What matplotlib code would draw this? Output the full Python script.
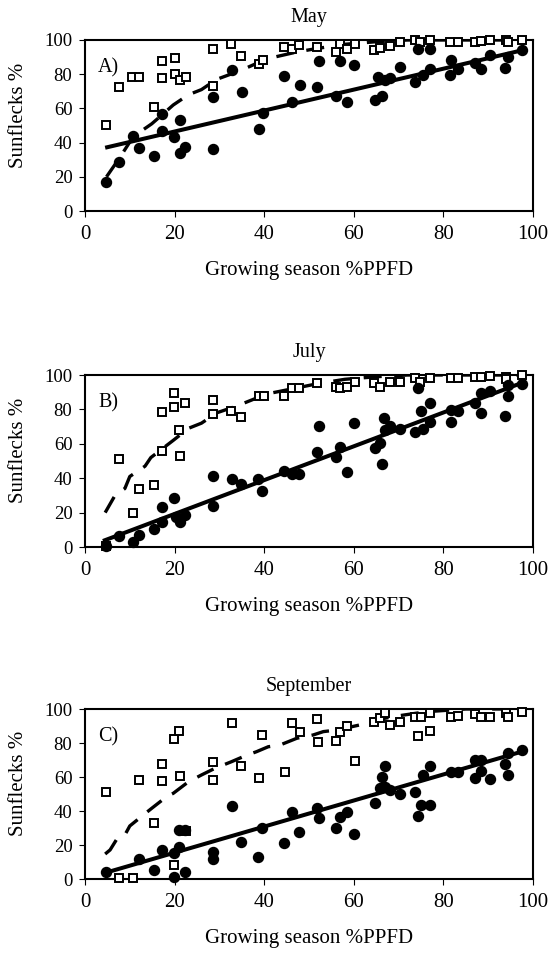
import numpy as np
import matplotlib
matplotlib.use('Agg')
import matplotlib.pyplot as plt

plt.rcParams['font.family'] = ['Liberation Serif', 'DejaVu Serif']
plt.rcParams['lines.scale_dashes'] = False

########## Data ##########
months = ['May', 'July', 'September']
panel_tags = ['A)', 'B)', 'C)']

# Panel A - May
sqA_x = [4.7, 7.7, 10.6, 12.0, 15.4, 17.2, 17.2, 20.1, 20.1, 21.2, 22.5, 28.6, 28.6, 32.7, 34.9, 38.9, 39.8,
         44.4, 46.1, 47.8, 51.7, 56.0, 56.9, 58.4, 60.2, 64.5, 65.9, 68.0, 70.3, 73.6, 74.7, 77.0, 81.4,
         83.3, 87.0, 88.5, 90.3, 93.9, 94.4, 97.6]
sqA_y = [50.3, 72.3, 78.6, 78.6, 60.6, 87.9, 78.0, 89.3, 80.1, 76.6, 78.6, 94.7, 73.1, 97.5, 90.6, 86.0, 88.3,
         96.1, 94.5, 97.1, 96.1, 93.2, 97.5, 94.5, 97.7, 94.2, 95.1, 96.7, 99.0, 100, 99.0, 100, 98.6,
         98.6, 99.0, 99.6, 100, 100, 99.0, 100]
ciA_x = [4.7, 7.7, 10.8, 12.0, 15.4, 17.2, 17.2, 19.8, 21.1, 21.1, 22.3, 28.6, 28.6, 32.8, 35.0, 38.8, 39.7,
         44.5, 46.2, 47.9, 51.7, 52.3, 56.0, 56.9, 58.4, 60.0, 64.7, 65.4, 66.2, 66.9, 68.0, 70.3, 73.6,
         74.3, 75.5, 77.0, 77.0, 81.4, 81.6, 83.3, 87.0, 88.3, 90.3, 93.7, 94.4, 97.6]
ciA_y = [17.2, 28.5, 43.7, 36.9, 32.3, 46.6, 56.7, 43.0, 53.2, 33.7, 37.6, 36.3, 66.9, 82.3, 69.8, 48.0, 57.1,
         78.8, 63.7, 73.7, 72.3, 87.9, 67.3, 87.9, 63.5, 85.4, 64.9, 78.2, 67.3, 76.6, 77.6, 84.4, 75.6,
         94.7, 79.5, 83.0, 94.5, 79.5, 88.3, 83.0, 86.4, 83.0, 91.2, 83.4, 89.9, 94.2]
dashA_x = [4.8, 7.7, 10.4, 12.7, 14.9, 17.1, 19.7, 23.1, 26.0, 29.4, 34.6, 40.6, 47.3, 51.7, 58, 65, 72, 97.6]
dashA_y = [20, 31, 42, 47, 51, 56, 62, 68, 71, 77, 82, 89, 93, 95, 97.5, 99, 100, 100]
lineA_x = [4.5, 97.6]
lineA_y = [37, 94]

# Panel B - July
sqB_x = [4.7, 7.7, 10.8, 12.0, 15.4, 17.2, 17.2, 19.9, 19.9, 21.0, 21.3, 22.3, 28.6, 28.6, 32.7, 34.9, 38.9,
         39.9, 44.4, 46.1, 47.8, 51.7, 56.0, 56.9, 58.4, 60.2, 64.5, 65.9, 68.0, 70.3, 73.6, 74.7, 77.0,
         81.6, 83.3, 87.0, 88.5, 90.3, 94.0, 94.0, 97.6]
sqB_y = [0.4, 50.9, 19.8, 34.0, 35.9, 78.6, 55.9, 89.7, 81.2, 68.0, 53.0, 83.5, 85.4, 77.1, 79.0, 75.7, 87.8,
         87.8, 87.8, 92.6, 92.6, 95.1, 93.2, 92.6, 93.2, 96.1, 95.5, 93.2, 96.1, 96.1, 98.1, 96.1, 98.1,
         98.1, 98.1, 99.0, 99.0, 99.4, 99.0, 97.5, 100]
ciB_x = [4.7, 7.7, 10.8, 12.0, 15.4, 17.2, 17.2, 19.9, 20.4, 21.3, 22.3, 28.6, 28.6, 32.9, 34.9, 38.7, 39.6,
         44.4, 46.1, 47.8, 51.7, 52.3, 56.0, 56.9, 58.4, 60.0, 64.7, 65.8, 66.2, 66.7, 66.9, 68.0, 70.3,
         73.6, 74.3, 75.1, 75.5, 77.0, 77.0, 81.6, 81.6, 83.3, 87.0, 88.3, 88.3, 90.3, 93.7, 94.4, 94.4, 97.6]
ciB_y = [0.4, 6.2, 2.9, 6.8, 10.7, 14.6, 23.3, 28.2, 17.5, 14.6, 18.4, 23.7, 41.4, 39.8, 36.9, 39.8, 32.6,
         44.3, 42.7, 42.7, 55.3, 70.3, 52.4, 58.3, 43.7, 72.2, 57.3, 60.6, 48.5, 75.1, 68.3, 70.3, 68.7,
         66.8, 92.4, 79.2, 68.7, 72.6, 83.9, 79.6, 72.8, 79.2, 83.5, 77.7, 89.7, 90.7, 76.3, 87.8, 94.2, 94.6]
dashB_x = [4.5, 6.7, 8.9, 10.0, 13.4, 14.7, 18.2, 19.7, 23.1, 26.0, 29.4, 33.9, 40.6, 47.3, 52, 58, 65, 72, 97.6]
dashB_y = [20, 30, 34, 41, 47, 52, 59, 62, 69, 72, 78, 82, 89, 92.5, 95, 97.5, 99, 100, 100]
lineB_x = [4.0, 97.6]
lineB_y = [3.5, 95.5]

# Panel C - September
sqC_x = [4.7, 7.7, 10.8, 12.0, 15.4, 17.2, 17.2, 19.9, 19.9, 21.0, 21.2, 22.5, 28.6, 28.6, 32.9, 34.9, 38.9,
         39.6, 44.6, 46.3, 48.0, 51.7, 52.0, 56.0, 57.0, 58.5, 60.2, 64.5, 65.9, 66.9, 68.0, 70.3, 73.6,
         74.3, 75.1, 77.0, 77.0, 81.6, 83.3, 87.0, 88.3, 90.3, 94.0, 94.4, 97.6]
sqC_y = [51.0, 0.4, 0.4, 58.2, 33.1, 67.6, 57.8, 82.4, 8.2, 87.3, 60.6, 28.4, 68.8, 58.4, 92.0, 66.7, 59.2,
         84.9, 62.7, 91.6, 86.7, 93.9, 80.4, 81.2, 86.7, 90.0, 69.4, 92.5, 94.5, 97.5, 90.6, 92.5, 95.1,
         84.1, 95.1, 97.5, 87.3, 95.5, 95.9, 97.1, 95.1, 95.1, 97.8, 95.1, 98.4]
ciC_x = [4.7, 12.0, 15.4, 17.2, 19.9, 19.9, 21.0, 21.0, 22.3, 22.3, 28.6, 28.6, 32.9, 34.9, 38.7, 39.6,
         44.4, 46.3, 47.8, 51.7, 52.3, 56.0, 56.9, 58.5, 60.0, 64.7, 65.8, 66.2, 66.9, 66.9, 68.0, 70.3,
         73.6, 74.3, 75.1, 75.5, 77.0, 77.0, 81.6, 83.3, 87.0, 87.0, 88.3, 88.3, 90.3, 93.7, 94.4, 94.4, 97.6]
ciC_y = [4.3, 11.8, 5.3, 17.1, 15.1, 1.4, 18.6, 28.8, 28.8, 4.3, 16.1, 11.8, 42.9, 21.9, 13.1, 30.2,
         21.0, 39.2, 27.5, 42.0, 35.7, 30.2, 36.7, 39.6, 26.5, 44.9, 53.3, 60.2, 66.5, 54.3, 52.4, 50.0,
         51.4, 37.3, 43.5, 61.2, 43.5, 66.5, 62.7, 62.7, 70.0, 59.4, 70.0, 63.5, 59.0, 67.5, 74.3, 61.2, 75.7]
dashC_x = [4.5, 5.6, 7.2, 8.9, 10.0, 13.0, 14.9, 18.2, 19.7, 23.1, 26.0, 29.0, 32.7, 35.7, 38.3, 40.9, 43.5,
           47.3, 50.9, 53.2, 56.1, 61.3, 64.7, 70, 76.2, 85, 97.6]
dashC_y = [14.7, 17.1, 23.9, 25.9, 31.2, 37.6, 41.6, 48.4, 50.4, 57.2, 61.2, 65.1, 69, 72.4, 74.9, 77.8, 78.8,
           82.8, 84.7, 86.7, 87.6, 90.6, 93.5, 96, 98.4, 100, 100]
lineC_x = [5.0, 97.6]
lineC_y = [4.0, 75.0]

squares = [(sqA_x, sqA_y), (sqB_x, sqB_y), (sqC_x, sqC_y)]
circles = [(ciA_x, ciA_y), (ciB_x, ciB_y), (ciC_x, ciC_y)]
dashed = [(dashA_x, dashA_y), (dashB_x, dashB_y), (dashC_x, dashC_y)]
solid = [(lineA_x, lineA_y), (lineB_x, lineB_y), (lineC_x, lineC_y)]
ticks = [0, 20, 40, 60, 80, 100]

########## Plot ##########
fig = plt.figure(figsize = [5.51 , 9.58] , dpi = 100)
W , H = 551. , 958.
boxes = [(40 , 211) , (375 , 547) , (709 , 879)]  # top / bottom pixel rows of each plot area

for cnt_p in range(0 , 3):
    top , bot = boxes[cnt_p]
    ax = fig.add_axes([85 / W , 1 - bot / H , 448 / W , (bot - top) / H])

    sx , sy = squares[cnt_p]
    cx , cy = circles[cnt_p]
    dx , dy = dashed[cnt_p]
    lx , ly = solid[cnt_p]

    ax.plot(dx , dy , color = 'k' , lw = 2.4 , linestyle = (0 , (13 , 9)) , zorder = 2)
    ax.plot(sx , sy , linestyle = 'none' , marker = 's' , ms = 5.8 , mfc = 'white' , mec = 'k' ,
            mew = 1.4 , clip_on = False , zorder = 3)
    ax.plot(cx , cy , linestyle = 'none' , marker = 'o' , ms = 7.2 , mfc = 'k' , mec = 'k' ,
            clip_on = False , zorder = 4)
    ax.plot(lx , ly , color = 'k' , lw = 2.9 , solid_capstyle = 'butt' , zorder = 5)

    ax.set_xlim(0 , 100)
    ax.set_ylim(0 , 100)
    ax.set_xticks(ticks)
    ax.set_yticks(ticks)
    for sp in ax.spines.values():
        sp.set_linewidth(1.5)
    ax.tick_params(axis = 'both' , direction = 'out' , length = 4 , width = 0.8)
    ax.tick_params(axis = 'x' , labelsize = 15 , pad = 6)
    ax.tick_params(axis = 'y' , labelsize = 13.5 , pad = 5)

    ax.set_title(months[cnt_p] , fontsize = 14.5 , pad = 13)
    ax.set_ylabel('Sunflecks %' , fontsize = 15)
    ax.yaxis.set_label_coords(-0.128 , 0.56)
    ax.text(0.029 , 0.81 , panel_tags[cnt_p] , transform = ax.transAxes , fontsize = 14.5 ,
            ha = 'left' , va = 'baseline')
    ax.set_xlabel('Growing season %PPFD' , fontsize = 15 , labelpad = 12)

fig.savefig('out.png' , dpi = 100)
